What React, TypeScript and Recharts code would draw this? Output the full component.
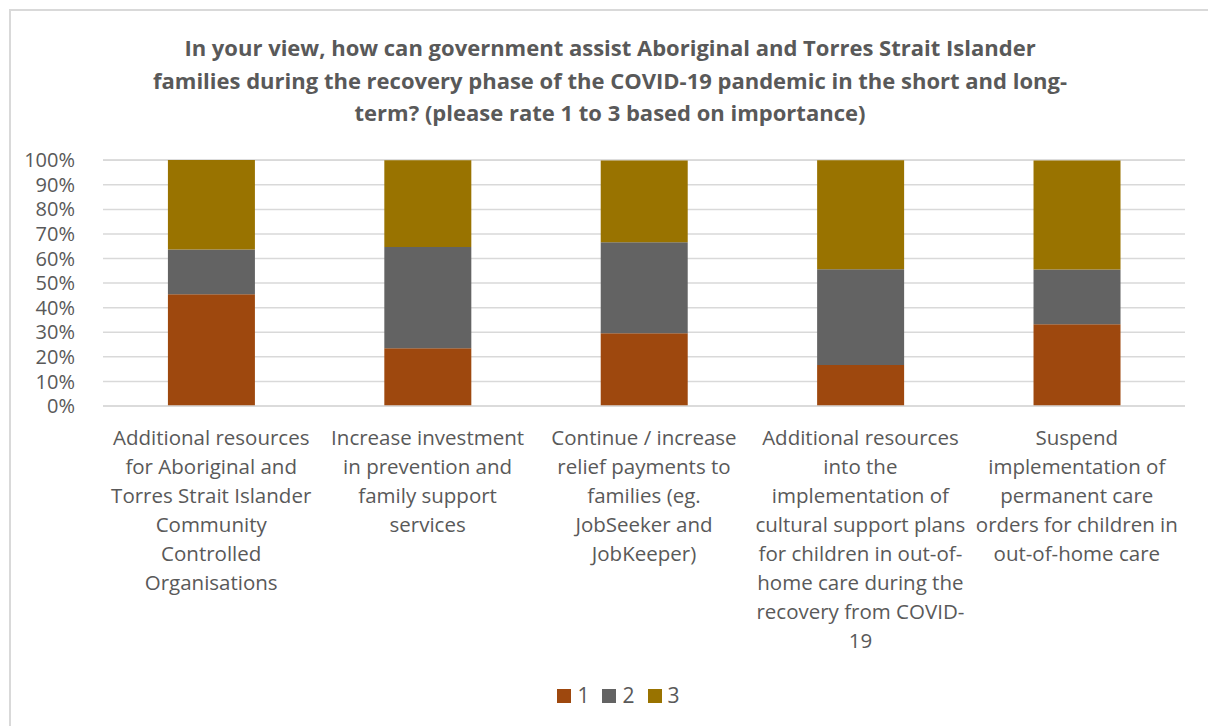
import React from 'react';
import { BarChart, Bar, XAxis, YAxis, CartesianGrid, Legend } from 'recharts';

const categoryLines: string[][] = [
  ['Additional resources', 'for Aboriginal and', 'Torres Strait Islander', 'Community', 'Controlled', 'Organisations'],
  ['Increase investment', 'in prevention and', 'family support', 'services'],
  ['Continue / increase', 'relief payments to', 'families (eg.', 'JobSeeker and', 'JobKeeper)'],
  ['Additional resources', 'into the', 'implementation of', 'cultural support plans', 'for children in out-of-', 'home care during the', 'recovery from COVID-', '19'],
  ['Suspend', 'implementation of', 'permanent care', 'orders for children in', 'out-of-home care'],
];

const rating1 = [45.5, 23.5, 29.6, 16.7, 33.3];
const rating2 = [18.2, 41.2, 37.0, 38.9, 22.2];
const rating3 = [36.4, 35.3, 33.3, 44.4, 44.4];

const yTicks = [0, 10, 20, 30, 40, 50, 60, 70, 80, 90, 100];

const titleLines = [
  'In your view, how can government assist Aboriginal and Torres Strait Islander',
  'families during the recovery phase of the COVID-19 pandemic in the short and long-',
  'term? (please rate 1 to 3 based on importance)',
];

const COLORS = { r1: '#9E480E', r2: '#636363', r3: '#997300' };
const FONT = '"Open Sans", sans-serif';
const TEXT = '#595959';

const data = categoryLines.map((lines, i) => ({
  name: lines.join(' '),
  idx: i,
  r1: rating1[i],
  r2: rating2[i],
  r3: rating3[i],
}));

const CategoryTick = ({ x, y, payload }: any) => {
  const lines = categoryLines[payload.index] || [payload.value];
  return (
    <text x={x} y={y} textAnchor="middle" fill={TEXT} fontSize={20.5} fontFamily={FONT}>
      {lines.map((l, i) => (
        <tspan key={i} x={x} dy={i === 0 ? 31 : 29}>{l}</tspan>
      ))}
    </text>
  );
};

const LegendContent = ({ payload }: any) => (
  <div style={{ display: 'flex', justifyContent: 'center', gap: 13, paddingLeft: 52, fontFamily: FONT, fontSize: 21, color: TEXT, lineHeight: '27px' }}>
    {(payload || []).map((entry: any) => (
      <div key={entry.value} style={{ display: 'flex', alignItems: 'center', gap: 6 }}>
        <span style={{ width: 14, height: 14, background: entry.color, display: 'inline-block' }} />
        <span>{entry.value}</span>
      </div>
    ))}
  </div>
);

export default function App() {
  return (
    <div style={{ position: 'absolute', left: 0, top: 0, width: 1208, height: 726, background: '#fff', overflow: 'hidden' }}>
      <div style={{ position: 'absolute', left: 9, top: 9, width: 1220, height: 740, border: '2px solid #d9d9d9' }} />
      <div style={{ position: 'absolute', left: 0, top: 31, width: 1220, textAlign: 'center', fontFamily: FONT, fontWeight: 700, fontSize: 22, lineHeight: '32.5px', color: TEXT }}>
        {titleLines.map((l, i) => <div key={i}>{l}</div>)}
      </div>
      <div style={{ position: 'absolute', left: 0, top: 0 }}>
        <BarChart
          width={1208}
          height={726}
          data={data}
          margin={{ top: 160, right: 23, left: 0, bottom: 17 }}
          barCategoryGap="30%"
        >
          <CartesianGrid vertical={false} stroke="#d9d9d9" strokeWidth={1.5} />
          <XAxis
            dataKey="name"
            tick={<CategoryTick />}
            tickLine={false}
            axisLine={{ stroke: '#d9d9d9', strokeWidth: 1.5 }}
            interval={0}
            height={276}
          />
          <YAxis
            domain={[0, 100]}
            ticks={yTicks}
            interval={0}
            tickFormatter={(v) => `${v}%`}
            tick={{ fill: TEXT, fontSize: 20, fontFamily: FONT }}
            axisLine={false}
            tickLine={false}
            tickMargin={22}
            width={103}
          />
          <Legend content={<LegendContent />} verticalAlign="bottom" />
          <Bar dataKey="r1" name="1" stackId="a" fill={COLORS.r1} isAnimationActive={false} />
          <Bar dataKey="r2" name="2" stackId="a" fill={COLORS.r2} isAnimationActive={false} />
          <Bar dataKey="r3" name="3" stackId="a" fill={COLORS.r3} isAnimationActive={false} />
        </BarChart>
      </div>
    </div>
  );
}
